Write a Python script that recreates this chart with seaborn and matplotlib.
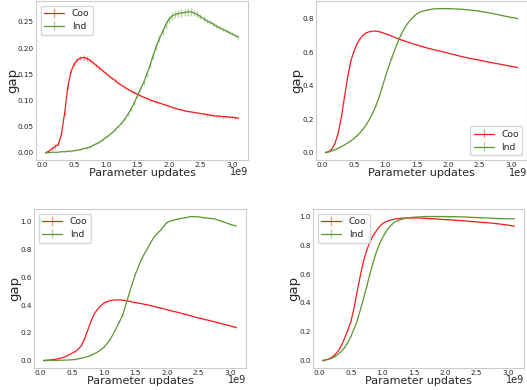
import numpy as np
import matplotlib
matplotlib.use("Agg")
import matplotlib.pyplot as plt
import seaborn as sns
from matplotlib.colors import to_rgba

# x positions in units of 1e9 parameter updates
updates = [0.05, 0.10, 0.15, 0.20, 0.25, 0.30, 0.35, 0.40, 0.45, 0.50,
           0.55, 0.60, 0.65, 0.70, 0.75, 0.80, 0.85, 0.90, 0.95, 1.00,
           1.05, 1.10, 1.15, 1.20, 1.25, 1.30, 1.35, 1.40, 1.45, 1.50,
           1.55, 1.60, 1.65, 1.70, 1.75, 1.80, 1.85, 1.90, 1.95, 2.00,
           2.05, 2.10, 2.15, 2.20, 2.25, 2.30, 2.35, 2.40, 2.45, 2.50,
           2.55, 2.60, 2.65, 2.70, 2.75, 2.80, 2.85, 2.90, 2.95, 3.00,
           3.05, 3.10]

# top left
tl_coo = [0.000, 0.003, 0.008, 0.012, 0.016, 0.035, 0.075, 0.125, 0.155, 0.169,
          0.177, 0.181, 0.182, 0.180, 0.177, 0.172, 0.167, 0.162, 0.157, 0.152,
          0.147, 0.142, 0.138, 0.133, 0.129, 0.125, 0.121, 0.118, 0.115, 0.112,
          0.109, 0.106, 0.104, 0.101, 0.099, 0.097, 0.095, 0.093, 0.091, 0.089,
          0.087, 0.085, 0.083, 0.082, 0.080, 0.079, 0.078, 0.077, 0.076, 0.075,
          0.074, 0.073, 0.072, 0.071, 0.070, 0.070, 0.069, 0.069, 0.068, 0.068,
          0.067, 0.066]
tl_coo_err = [0.000, 0.002, 0.003, 0.004, 0.004, 0.003, 0.003, 0.003, 0.003, 0.004,
              0.004, 0.004, 0.004, 0.004, 0.003, 0.003, 0.003, 0.003, 0.002, 0.002,
              0.002, 0.002, 0.002, 0.002, 0.002, 0.002, 0.002, 0.002, 0.002, 0.002,
              0.002, 0.002, 0.002, 0.002, 0.002, 0.002, 0.001, 0.001, 0.001, 0.001,
              0.001, 0.001, 0.001, 0.001, 0.001, 0.001, 0.001, 0.001, 0.001, 0.001,
              0.002, 0.002, 0.002, 0.002, 0.002, 0.002, 0.002, 0.002, 0.002, 0.002,
              0.002, 0.002]
tl_ind = [0.000, 0.000, 0.001, 0.001, 0.001, 0.002, 0.002, 0.003, 0.003, 0.004,
          0.005, 0.006, 0.008, 0.009, 0.011, 0.014, 0.017, 0.020, 0.024, 0.029,
          0.033, 0.038, 0.044, 0.050, 0.056, 0.064, 0.073, 0.083, 0.095, 0.108,
          0.121, 0.134, 0.150, 0.166, 0.185, 0.203, 0.218, 0.231, 0.244, 0.255,
          0.261, 0.264, 0.266, 0.267, 0.268, 0.269, 0.269, 0.267, 0.264, 0.260,
          0.256, 0.252, 0.249, 0.246, 0.242, 0.239, 0.236, 0.233, 0.230, 0.227,
          0.224, 0.221]
tl_ind_err = [0.000, 0.000, 0.000, 0.000, 0.000, 0.000, 0.001, 0.001, 0.001, 0.001,
              0.001, 0.001, 0.001, 0.001, 0.001, 0.001, 0.001, 0.001, 0.001, 0.001,
              0.001, 0.001, 0.002, 0.002, 0.002, 0.002, 0.003, 0.003, 0.003, 0.004,
              0.004, 0.005, 0.005, 0.005, 0.006, 0.006, 0.006, 0.006, 0.007, 0.007,
              0.007, 0.007, 0.007, 0.007, 0.007, 0.007, 0.007, 0.006, 0.006, 0.005,
              0.005, 0.004, 0.004, 0.004, 0.004, 0.003, 0.003, 0.003, 0.003, 0.003,
              0.003, 0.003]

# top right
tr_coo = [0.000, 0.005, 0.020, 0.055, 0.115, 0.210, 0.330, 0.450, 0.545, 0.605,
          0.650, 0.682, 0.703, 0.716, 0.723, 0.726, 0.726, 0.723, 0.717, 0.711,
          0.704, 0.696, 0.689, 0.681, 0.674, 0.668, 0.661, 0.655, 0.649, 0.643,
          0.638, 0.632, 0.627, 0.622, 0.617, 0.612, 0.608, 0.603, 0.599, 0.594,
          0.589, 0.585, 0.580, 0.575, 0.571, 0.567, 0.563, 0.559, 0.556, 0.552,
          0.548, 0.544, 0.540, 0.537, 0.533, 0.530, 0.526, 0.523, 0.519, 0.515,
          0.512, 0.508]
tr_ind = [0.000, 0.004, 0.010, 0.017, 0.025, 0.034, 0.045, 0.056, 0.069, 0.083,
          0.100, 0.119, 0.142, 0.168, 0.200, 0.236, 0.280, 0.330, 0.390, 0.452,
          0.510, 0.564, 0.614, 0.663, 0.705, 0.741, 0.770, 0.792, 0.813, 0.830,
          0.840, 0.846, 0.851, 0.855, 0.858, 0.860, 0.861, 0.861, 0.861, 0.861,
          0.860, 0.859, 0.858, 0.857, 0.856, 0.854, 0.852, 0.850, 0.848, 0.845,
          0.842, 0.839, 0.835, 0.832, 0.828, 0.824, 0.820, 0.816, 0.812, 0.808,
          0.805, 0.801]

# bottom left
bl_coo = [0.000, 0.002, 0.004, 0.007, 0.010, 0.015, 0.021, 0.030, 0.040, 0.053,
          0.065, 0.082, 0.110, 0.160, 0.222, 0.283, 0.336, 0.368, 0.393, 0.413,
          0.425, 0.432, 0.436, 0.437, 0.437, 0.435, 0.432, 0.428, 0.423, 0.418,
          0.414, 0.410, 0.405, 0.401, 0.396, 0.390, 0.384, 0.379, 0.373, 0.367,
          0.361, 0.355, 0.350, 0.344, 0.338, 0.332, 0.326, 0.320, 0.313, 0.307,
          0.302, 0.296, 0.291, 0.285, 0.280, 0.274, 0.268, 0.262, 0.256, 0.250,
          0.244, 0.238]
bl_ind = [0.000, 0.000, 0.001, 0.001, 0.001, 0.002, 0.002, 0.003, 0.004, 0.005,
          0.008, 0.012, 0.017, 0.023, 0.029, 0.038, 0.048, 0.060, 0.076, 0.094,
          0.120, 0.150, 0.190, 0.234, 0.280, 0.326, 0.400, 0.476, 0.550, 0.620,
          0.678, 0.730, 0.775, 0.814, 0.855, 0.892, 0.918, 0.940, 0.968, 0.995,
          1.005, 1.012, 1.018, 1.023, 1.027, 1.031, 1.036, 1.039, 1.038, 1.036,
          1.033, 1.030, 1.027, 1.025, 1.022, 1.015, 1.007, 0.999, 0.991, 0.983,
          0.977, 0.970]

# bottom right
br_coo = [0.000, 0.004, 0.011, 0.023, 0.042, 0.067, 0.105, 0.155, 0.210, 0.271,
          0.364, 0.480, 0.590, 0.689, 0.764, 0.821, 0.865, 0.898, 0.928, 0.949,
          0.963, 0.972, 0.978, 0.983, 0.986, 0.988, 0.989, 0.990, 0.990, 0.990,
          0.990, 0.989, 0.988, 0.987, 0.986, 0.985, 0.983, 0.982, 0.980, 0.979,
          0.978, 0.976, 0.975, 0.973, 0.972, 0.970, 0.968, 0.966, 0.965, 0.963,
          0.961, 0.959, 0.958, 0.956, 0.954, 0.951, 0.949, 0.946, 0.943, 0.940,
          0.937, 0.933]
br_ind = [0.000, 0.003, 0.009, 0.016, 0.028, 0.044, 0.065, 0.090, 0.125, 0.167,
          0.218, 0.276, 0.350, 0.429, 0.512, 0.596, 0.675, 0.747, 0.805, 0.851,
          0.890, 0.921, 0.945, 0.963, 0.973, 0.981, 0.986, 0.990, 0.993, 0.995,
          0.997, 0.998, 0.999, 1.000, 1.000, 1.000, 1.000, 1.000, 1.000, 1.000,
          0.999, 0.999, 0.999, 0.998, 0.998, 0.997, 0.996, 0.995, 0.994, 0.993,
          0.992, 0.991, 0.990, 0.989, 0.988, 0.987, 0.986, 0.985, 0.985, 0.984,
          0.984, 0.984]

small_err = 0.002
RED = "#f01e1e"
GREEN = "#5a9632"

sns.set_style("whitegrid")
plt.rcParams["font.family"] = ["DejaVu Sans"]

fig = plt.figure(figsize=(5.27, 3.9), dpi=100)
W, H = 527, 390

# (left, right, top, bottom) in pixels, ylabel x / 1e9 y in axes coords
boxes = [(36, 248, 1, 160, -0.11, -0.077), (316, 527, 1, 160, -0.09, -0.08),
         (34, 246, 209, 368, -0.092, -0.077), (313, 524, 209, 368, -0.092, -0.077)]
panels = [
    (tl_coo, tl_coo_err, tl_ind, tl_ind_err, "upper left"),
    (tr_coo, small_err, tr_ind, small_err, "lower right"),
    (bl_coo, small_err, bl_ind, small_err, "upper left"),
    (br_coo, small_err, br_ind, small_err, "upper left"),
]

x = np.array(updates) * 1e9
for (l, r, t, b, ylx, oy), (coo, coo_e, ind, ind_e, loc) in zip(boxes, panels):
    ax = fig.add_axes([l / W, 1 - b / H, (r - l) / W, (b - t) / H])
    ax.errorbar(x, coo, yerr=coo_e, color=RED, ecolor=to_rgba(RED, 0.45),
                lw=0.9, elinewidth=1.0, label="Coo")
    ax.errorbar(x, ind, yerr=ind_e, color=GREEN, ecolor=to_rgba(GREEN, 0.45),
                lw=0.9, elinewidth=1.0, label="Ind")
    ax.grid(False)
    for s in ax.spines.values():
        s.set_color(".8")
        s.set_linewidth(0.8)
    ax.tick_params(labelsize=5.2, length=0, pad=1.5, colors=".15")
    # scale factor drawn by hand so it sits level with the x label
    ax.xaxis.get_offset_text().set_visible(False)
    ax.text(1.0, oy, "1e9", transform=ax.transAxes, ha="right", va="center",
            fontsize=7, color=".15")
    ax.set_xlabel("Parameter updates", fontsize=8, va="center")
    ax.xaxis.set_label_coords(0.5, -0.082)
    ax.set_ylabel("gap", fontsize=9.5, va="center")
    ax.yaxis.set_label_coords(ylx, 0.5)
    ax.legend(loc=loc, fontsize=6.6, frameon=True, borderpad=0.4,
              handlelength=2.2, labelspacing=0.4)

fig.savefig("out.png", dpi=100)
